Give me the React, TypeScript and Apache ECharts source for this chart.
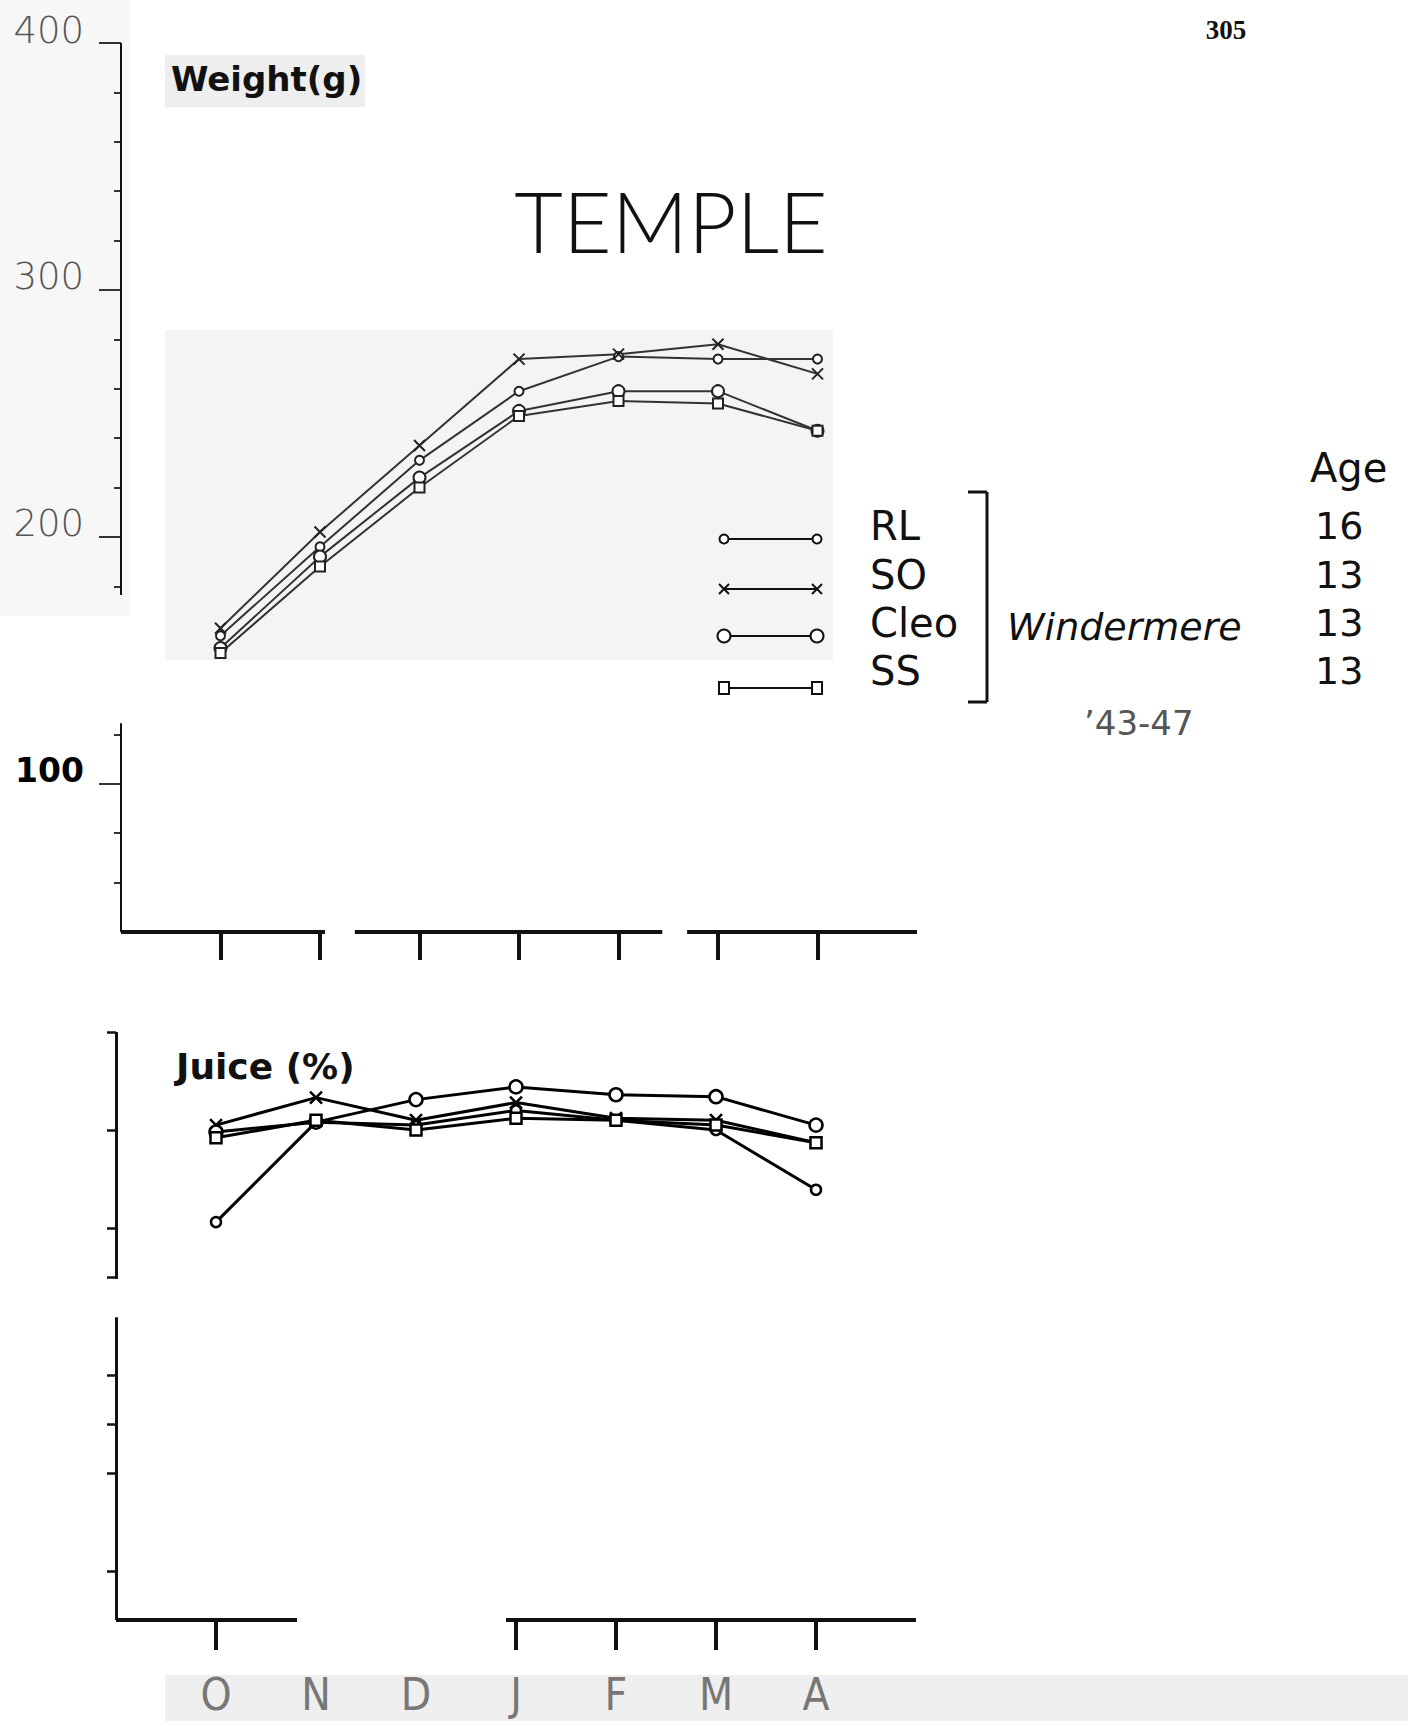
import React, { useEffect, useRef } from "react";
import * as echarts from "echarts";

// ---------- data ----------
const months = ["O", "N", "D", "J", "F", "M", "A"];
const varieties = ["RL", "SO", "Cleo", "SS"];
const ages = ["16", "13", "13", "13"];
const originText = "Windermere";
const periodText = "\u201943-47";
const pageNumber = "305";
const titleText = "TEMPLE";
const weightTitle = "Weight(g)";
const juiceTitle = "Juice (%)";
const ageTitle = "Age";

const weightRL = [160, 196, 231, 259, 273, 272, 272];
const weightSO = [163, 202, 237, 272, 274, 278, 266];
const weightCleo = [155, 192, 224, 251, 259, 259, 243];
const weightSS = [153, 188, 220, 249, 255, 254, 243];

const juiceRL = [40.6, 50.8, 50.5, 52.0, 51.0, 50.0, 43.9];
const juiceSO = [50.5, 53.3, 51.0, 52.8, 51.2, 51.0, 48.7];
const juiceCleo = [49.8, 50.8, 53.1, 54.4, 53.6, 53.4, 50.5];
const juiceSS = [49.2, 51.0, 50.0, 51.2, 51.0, 50.5, 48.7];

const weightTickValues = [60, 80, 100, 120, 180, 200, 220, 240, 260, 280, 300, 320, 340, 360, 380, 400];
const weightLabelValues = [100, 200, 300, 400];
const juiceTickValues = [5, 15, 20, 25, 35, 40, 50, 60];
const monthTickValues = [0, 1, 2, 3, 4, 5, 6];
const juiceMonthTickValues = [0, 3, 4, 5, 6];

// axis line pieces (data units) — the hand-drawn axes are broken
const weightYSegments = [[400, 176.5], [124.5, 40]];
const weightXSegments = [[-1, 1.05], [1.35, 4.44], [4.69, 7]];
const juiceYSegments = [[60, 34.8], [30.9, 0]];
const juiceXSegments = [[-1, 0.81], [2.9, 7]];

const weightData = [weightRL, weightSO, weightCleo, weightSS];
const juiceData = [juiceRL, juiceSO, juiceCleo, juiceSS];

// ---------- styles ----------
const X_PATH = "path://M0,0L10,10M10,0L0,10";
const symbols = ["circle", X_PATH, "circle", "rect"];
const symbolSizes = [9, 11, 12, 10];
const INK = "#111";
const HAND = "'DejaVu Sans', 'Noto Sans', sans-serif";

function axisPieces(ySegs: number[][], xVal: number, xSegs: number[][], yVal: number, yWidth: number, xWidth: number) {
  const out: any[] = [];
  ySegs.forEach(([a, b]) => {
    out.push([
      { coord: [xVal, a], lineStyle: { width: yWidth, color: INK, type: "solid" } },
      { coord: [xVal, b] },
    ]);
  });
  xSegs.forEach(([a, b]) => {
    out.push([
      { coord: [a, yVal], lineStyle: { width: xWidth, color: INK, type: "solid" } },
      { coord: [b, yVal] },
    ]);
  });
  return out;
}

function buildSeries() {
  const series: any[] = [];
  weightData.forEach((vals, i) => {
    series.push({
      type: "line",
      name: varieties[i],
      xAxisIndex: 0,
      yAxisIndex: 0,
      clip: false,
      data: vals.map((v, k) => [monthTickValues[k], v]),
      symbol: symbols[i],
      symbolSize: symbolSizes[i],
      showAllSymbol: true,
      lineStyle: { color: "#333", width: 2 },
      itemStyle: { color: "#fff", borderColor: "#222", borderWidth: 2 },
      emphasis: { disabled: true },
      z: 3,
      markLine:
        i === 0
          ? {
              silent: true,
              symbol: ["none", "none"],
              label: { show: false },
              lineStyle: { type: "solid", color: INK },
              data: axisPieces(weightYSegments, -1, weightXSegments, 40, 2, 4),
            }
          : undefined,
    });
  });
  juiceData.forEach((vals, i) => {
    series.push({
      type: "line",
      name: varieties[i] + " juice",
      xAxisIndex: 1,
      yAxisIndex: 2,
      clip: false,
      data: vals.map((v, k) => [monthTickValues[k], v]),
      symbol: symbols[i],
      symbolSize: symbolSizes[i] + 1,
      showAllSymbol: true,
      lineStyle: { color: "#000", width: 3 },
      itemStyle: { color: "#fff", borderColor: "#000", borderWidth: 2.5 },
      emphasis: { disabled: true },
      z: 3,
      markLine:
        i === 0
          ? {
              silent: true,
              symbol: ["none", "none"],
              label: { show: false },
              lineStyle: { type: "solid", color: INK },
              data: axisPieces(juiceYSegments, -1, juiceXSegments, 0, 3, 4),
            }
          : undefined,
    });
  });
  return series;
}

function legendMarker(kind: number, cx: number, cy: number): any[] {
  const st = { fill: "#fff", stroke: INK, lineWidth: 2 };
  if (kind === 1) {
    return [
      { type: "line", shape: { x1: cx - 5, y1: cy - 5, x2: cx + 5, y2: cy + 5 }, style: { stroke: INK, lineWidth: 2 } },
      { type: "line", shape: { x1: cx - 5, y1: cy + 5, x2: cx + 5, y2: cy - 5 }, style: { stroke: INK, lineWidth: 2 } },
    ];
  }
  if (kind === 3) {
    return [{ type: "rect", shape: { x: cx - 5, y: cy - 6, width: 10, height: 12 }, style: st }];
  }
  return [{ type: "circle", shape: { cx, cy, r: kind === 0 ? 4.5 : 6.5 }, style: st }];
}

function buildGraphics() {
  const g: any[] = [];
  // faint scan-shading patches
  const bg = (x: number, y: number, w: number, h: number, fill: string) =>
    g.push({ type: "rect", z: -10, silent: true, shape: { x, y, width: w, height: h }, style: { fill } });
  bg(0, 0, 130, 616, "#f7f7f7");
  bg(165, 330, 668, 330, "#f4f4f4");
  bg(165, 55, 200, 52, "#eeeeee");
  bg(165, 1675, 1243, 46, "#efefef");

  const txt = (text: string, x: number, y: number, style: any) =>
    g.push({
      type: "text",
      x,
      y,
      z: 10,
      silent: true,
      style: { text, fill: INK, align: "left", verticalAlign: "middle", fontFamily: HAND, ...style },
    });

  txt(pageNumber, 1226, 30, { align: "center", fontFamily: "'Liberation Serif', serif", fontWeight: "bold", fontSize: 27 });
  txt(weightTitle, 171, 79, { fontWeight: "bold", fontSize: 34 });
  txt(titleText, 671, 220, { align: "center", fontFamily: "Lato, 'Open Sans', sans-serif", fontWeight: 300, fontSize: 84 });
  txt(juiceTitle, 176, 1066, { fontWeight: "bold", fontSize: 36 });
  txt(ageTitle, 1310, 468, { fontSize: 40 });
  txt(originText, 1007, 627, { fontSize: 38, fontStyle: "italic" });
  txt(periodText, 1084, 723, { fontSize: 34, fill: "#555" });

  const labelY = [526, 575, 623, 671];
  const rowY = [539, 589, 636, 688];
  varieties.forEach((v, i) => {
    txt(v, 870, labelY[i], { fontSize: 40 });
    txt(ages[i], 1315, labelY[i], { fontSize: 38 });
    g.push({ type: "line", z: 10, silent: true, shape: { x1: 724, y1: rowY[i], x2: 817, y2: rowY[i] }, style: { stroke: INK, lineWidth: 2 } });
    legendMarker(i, 724, rowY[i]).forEach((m) => g.push({ ...m, z: 11, silent: true }));
    legendMarker(i, 817, rowY[i]).forEach((m) => g.push({ ...m, z: 11, silent: true }));
  });

  // bracket
  const br = (x1: number, y1: number, x2: number, y2: number) =>
    g.push({ type: "line", z: 10, silent: true, shape: { x1, y1, x2, y2 }, style: { stroke: INK, lineWidth: 3 } });
  br(987, 492, 987, 702);
  br(968, 492, 987, 492);
  br(968, 702, 987, 702);
  return g;
}

const option: any = {
  animation: false,
  backgroundColor: "#fff",
  grid: [
    { left: 121, top: 43, width: 796, height: 889, containLabel: false, outerBoundsMode: "none" },
    { left: 116, top: 1032, width: 800, height: 588, containLabel: false, outerBoundsMode: "none" },
  ],
  xAxis: [
    {
      gridIndex: 0,
      type: "value",
      position: "bottom",
      min: -1,
      max: 7,
      interval: 1,
      axisLine: { show: false, onZero: false },
      axisTick: { show: true, customValues: monthTickValues, length: 28, lineStyle: { color: INK, width: 4 } },
      axisLabel: { show: false },
      splitLine: { show: false },
    },
    {
      gridIndex: 1,
      type: "value",
      position: "bottom",
      min: -1,
      max: 7,
      interval: 1,
      axisLine: { show: false, onZero: false },
      axisTick: { show: true, customValues: juiceMonthTickValues, length: 30, lineStyle: { color: INK, width: 4 } },
      axisLabel: {
        show: true,
        customValues: monthTickValues,
        formatter: (v: number) => months[v] ?? "",
        margin: 52,
        fontSize: 44,
        color: "#777",
        fontWeight: "lighter",
        fontFamily: "'Liberation Sans Narrow', 'DejaVu Sans Condensed', 'Liberation Sans', sans-serif",
      },
      splitLine: { show: false },
    },
  ],
  yAxis: [
    {
      gridIndex: 0,
      type: "value",
      position: "left",
      offset: 0,
      min: 40,
      max: 400,
      interval: 20,
      axisLine: { show: false, onZero: false },
      axisTick: { show: true, customValues: weightTickValues, length: 7, lineStyle: { color: "#333", width: 2 } },
      axisLabel: { show: false },
      splitLine: { show: false },
    },
    {
      gridIndex: 0,
      type: "value",
      position: "left",
      offset: 0,
      min: 40,
      max: 400,
      interval: 20,
      axisLine: { show: false, onZero: false },
      axisTick: { show: true, customValues: weightLabelValues, length: 22, lineStyle: { color: "#333", width: 2 } },
      axisLabel: {
        show: true,
        customValues: weightLabelValues,
        margin: 37,
        padding: [0, 0, 26, 0],
        formatter: (v: number) => (v === 100 ? `{b|${v}}` : `{a|${v}}`),
        rich: {
          a: { fontSize: 37, color: "#555", fontFamily: HAND, fontWeight: "lighter" },
          b: { fontSize: 33, color: "#000", fontFamily: HAND, fontWeight: "bold" },
        },
      },
      splitLine: { show: false },
    },
    {
      gridIndex: 1,
      type: "value",
      position: "left",
      min: 0,
      max: 60,
      interval: 5,
      axisLine: { show: false, onZero: false },
      axisTick: { show: true, customValues: juiceTickValues, length: 9, lineStyle: { color: INK, width: 2.5 } },
      axisLabel: { show: false },
      splitLine: { show: false },
    },
  ],
  series: buildSeries(),
  graphic: buildGraphics(),
};

export default function App() {
  const ref = useRef<HTMLDivElement>(null);
  useEffect(() => {
    if (!ref.current) return;
    const chart = echarts.init(ref.current, null, { renderer: "svg" });
    chart.setOption(option);
    return () => chart.dispose();
  }, []);
  return (
    <div
      ref={ref}
      style={{ position: "fixed", left: 0, top: 0, width: 1408, height: 1726, background: "#fff" }}
    />
  );
}
